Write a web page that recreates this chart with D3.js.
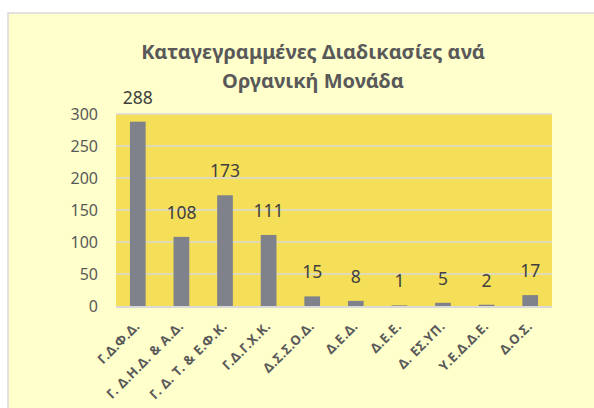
<!DOCTYPE html>
<html>
<head>
<meta charset="utf-8">
<script src="https://cdn.jsdelivr.net/npm/d3@7"></script>
<style>
  body { margin: 0; background: #fff; }
  text { font-family: "Noto Sans", sans-serif; }
</style>
</head>
<body>
<script>
var categories = ['Γ.Δ.Φ.Δ.', 'Γ. Δ.Η.Δ. & Α.Δ.', 'Γ. Δ. Τ. & Ε.Φ.Κ.', 'Γ.Δ.Γ.Χ.Κ.', 'Δ.Σ.Σ.Ο.Δ.',
                  'Δ.Ε.Δ.', 'Δ.Ε.Ε.', 'Δ. ΕΣ.ΥΠ.', 'Υ.Ε.Δ.Δ.Ε.', 'Δ.Ο.Σ.'];
var values = [288, 108, 173, 111, 15, 8, 1, 5, 2, 17];
var yTicks = [0, 50, 100, 150, 200, 250, 300];
var titleLines = ['Καταγεγραμμένες Διαδικασίες ανά', 'Οργανική Μονάδα'];

var width = 594, height = 408;
var margin = {top: 114, right: 42, bottom: 102, left: 116};

var svg = d3.select("body").append("svg")
  .attr("width", width)
  .attr("height", height);

// chart box
svg.append("rect")
  .attr("x", 8).attr("y", 13)
  .attr("width", width).attr("height", height)
  .attr("fill", "#FFFFCC")
  .attr("stroke", "#D9D9D9")
  .attr("stroke-width", 1.5);

var x = d3.scaleBand()
  .domain(categories)
  .range([margin.left, width - margin.right])
  .paddingInner(0.64)
  .paddingOuter(0.32);

var y = d3.scaleLinear()
  .domain([0, 300])
  .range([height - margin.bottom, margin.top]);

// plot area
svg.append("rect")
  .attr("x", margin.left).attr("y", y(300))
  .attr("width", width - margin.right - margin.left)
  .attr("height", y(0) - y(300))
  .attr("fill", "#F5DE58");

// gridlines
svg.append("g")
  .selectAll("line")
  .data(yTicks.filter(function(d) { return d > 0; }))
  .enter().append("line")
    .attr("x1", margin.left).attr("x2", width - margin.right)
    .attr("y1", function(d) { return y(d); })
    .attr("y2", function(d) { return y(d); })
    .attr("stroke", "#D9D9D9")
    .attr("stroke-width", 1.5);

// bars
svg.append("g")
  .selectAll("rect")
  .data(values)
  .enter().append("rect")
    .attr("x", function(d, i) { return x(categories[i]); })
    .attr("y", function(d) { return y(d); })
    .attr("width", x.bandwidth())
    .attr("height", function(d) { return y(0) - y(d); })
    .attr("fill", "#7F828A");

// baseline
svg.append("line")
  .attr("x1", margin.left).attr("x2", width - margin.right)
  .attr("y1", y(0) + 1).attr("y2", y(0) + 1)
  .attr("stroke", "#D9D9D9")
  .attr("stroke-width", 2);

// data labels
svg.append("g")
  .selectAll("text")
  .data(values)
  .enter().append("text")
    .attr("x", function(d, i) { return x(categories[i]) + x.bandwidth() / 2; })
    .attr("y", function(d) { return y(d) - 18; })
    .attr("text-anchor", "middle")
    .attr("font-size", "17.5px")
    .attr("fill", "#404040")
    .text(function(d) { return d; });

// y axis
var yAxis = svg.append("g")
  .attr("transform", "translate(" + (margin.left - 18) + ",0)")
  .call(d3.axisLeft(y).tickValues(yTicks).tickSize(0).tickPadding(0));
yAxis.select(".domain").remove();
yAxis.selectAll("text")
  .attr("font-family", "Noto Sans")
  .attr("font-size", "16px")
  .attr("fill", "#595959");

// x axis labels
var xAxis = svg.append("g")
  .attr("transform", "translate(0," + y(0) + ")")
  .call(d3.axisBottom(x).tickSize(0).tickPadding(0));
xAxis.select(".domain").remove();
xAxis.selectAll("text")
  .attr("font-family", "Noto Sans")
  .attr("font-size", "13px")
  .attr("font-weight", "bold")
  .attr("letter-spacing", "0.6px")
  .attr("fill", "#595959")
  .attr("text-anchor", "end")
  .attr("dy", null)
  .attr("y", 0)
  .attr("transform", "translate(3,21) rotate(-45)");

// title
svg.append("g")
  .selectAll("text")
  .data(titleLines)
  .enter().append("text")
    .attr("x", 313)
    .attr("y", function(d, i) { return 59 + i * 29; })
    .attr("text-anchor", "middle")
    .attr("font-size", "20px")
    .attr("font-weight", "bold")
    .attr("fill", "#595959")
    .text(function(d) { return d; });
</script>
</body>
</html>
